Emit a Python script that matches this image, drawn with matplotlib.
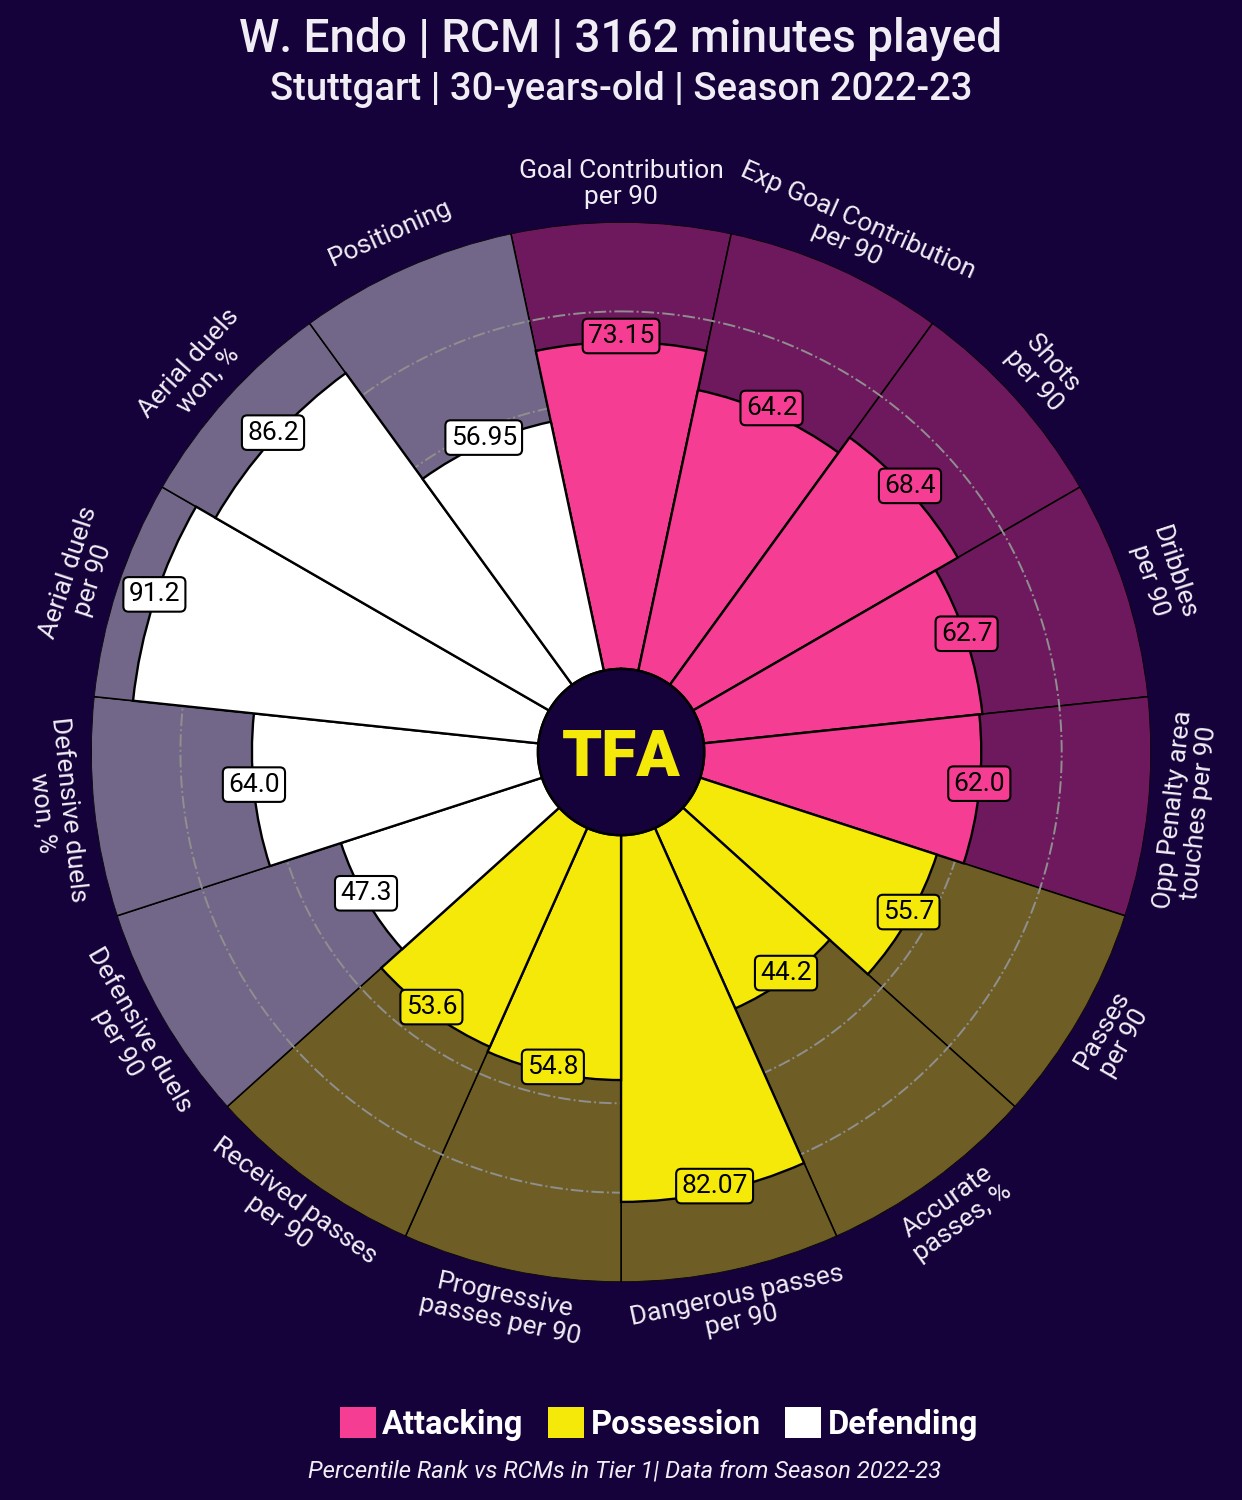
"""Pizza chart of W. Endo percentile ranks (season 2022-23)."""

import numpy as np
import matplotlib
matplotlib.use('Agg')
import matplotlib.pyplot as plt
from matplotlib.colors import to_rgba
from matplotlib.patches import Patch

plt.rcParams['font.family'] = ['Roboto', 'DejaVu Sans']

# Data
params = ['Goal Contribution\nper 90', 'Exp Goal Contribution\nper 90', 'Shots\nper 90',
          'Dribbles\nper 90', 'Opp Penalty area\ntouches per 90', 'Passes\nper 90',
          'Accurate\npasses, %', 'Dangerous passes\nper 90', 'Progressive\npasses per 90',
          'Received passes\nper 90', 'Defensive duels\nper 90', 'Defensive duels\nwon, %',
          'Aerial duels\nper 90', 'Aerial duels\nwon, %', 'Positioning']
values = [73.15, 64.2, 68.4, 62.7, 62.0, 55.7, 44.2, 82.07, 54.8, 53.6,
          47.3, 64.0, 91.2, 86.2, 56.95]
groups = ['Attacking'] * 5 + ['Possession'] * 5 + ['Defending'] * 5
group_names = ['Attacking', 'Possession', 'Defending']

BG = '#15023a'
TXT = '#f0edf5'
group_colors = {'Attacking': '#f63d94', 'Possession': '#f5e90a', 'Defending': '#ffffff'}

n = len(params)
theta = np.deg2rad(np.arange(n) * 360 / n)
width = 2 * np.pi / n
colors = [group_colors[g] for g in groups]
bg_colors = [to_rgba(c, 0.4) for c in colors]

fig = plt.figure(figsize=(12.42, 15), dpi=100, facecolor=BG)
ax = fig.add_axes([0.0733, 0.1453, 0.8535, 0.7067], projection='polar')
ax.set_facecolor(BG)
ax.set_theta_zero_location('N')
ax.set_theta_direction(-1)
ax.set_ylim(0, 100)
ax.set_rorigin(-18.6)

# background slices
ax.bar(theta, [100] * n, width=width, bottom=0, color=bg_colors,
       edgecolor='black', linewidth=1.1, zorder=1)

# grid circles
tt = np.linspace(0, 2 * np.pi, 500)
for r in [20, 40, 60, 80]:
    ax.plot(tt, [r] * len(tt), ls='-.', color='#8f8f8f', lw=1.4, zorder=2)

# value slices
ax.bar(theta, values, width=width, bottom=0, color=colors,
       edgecolor='black', linewidth=1.7, zorder=3)

# inner circle outline
ax.plot(tt, [0] * len(tt), color='black', lw=1.8, zorder=4, clip_on=False)

# value labels
for th, v, c in zip(theta, values, colors):
    ax.annotate(str(v), xy=(th, v), xytext=(0, 6), textcoords='offset pixels',
                ha='center', va='center', fontsize=19, color='black', zorder=6,
                bbox=dict(boxstyle='round,pad=0.2', fc=c, ec='black', lw=1.5))

# param labels
for i, (th, p) in enumerate(zip(theta, params)):
    a = i * 360 / n
    rot = -a
    if 90 < a < 270:
        rot += 180
    ax.text(th, 108.6, p, rotation=rot, rotation_mode='anchor', ha='center',
            va='center', fontsize=19, color=TXT, linespacing=1.1)

# logo
ax.text(0.5, 0.494, 'TFA', transform=ax.transAxes, ha='center', va='center',
        fontsize=46, fontweight='heavy', color='#f5e90a', zorder=7)

ax.set_xticks([])
ax.set_yticks([])
ax.grid(False)
ax.spines['polar'].set_visible(False)

fig.text(0.5, 0.9737, 'W. Endo | RCM | 3162 minutes played', ha='center', va='center',
         fontsize=33, fontweight='medium', color=TXT)
fig.text(0.5, 0.9400, 'Stuttgart | 30-years-old | Season 2022-23', ha='center', va='center',
         fontsize=27.5, fontweight='medium', color=TXT)

handles = [Patch(facecolor=group_colors[g], edgecolor='none') for g in group_names]
fig.legend(handles, group_names, loc='center', bbox_to_anchor=(0.5306, 0.0507), ncol=3,
           frameon=False, handlelength=1.1, handleheight=1.1, handletextpad=0.2,
           columnspacing=0.75, labelcolor='white',
           prop={'family': ['Roboto', 'DejaVu Sans'], 'weight': 'bold', 'size': 23.5})

fig.text(0.5025, 0.0195, 'Percentile Rank vs RCMs in Tier 1| Data from Season 2022-23',
         ha='center', va='center', fontsize=17.2, style='italic', color=TXT)

fig.savefig('out.png', dpi=100, facecolor=BG)
